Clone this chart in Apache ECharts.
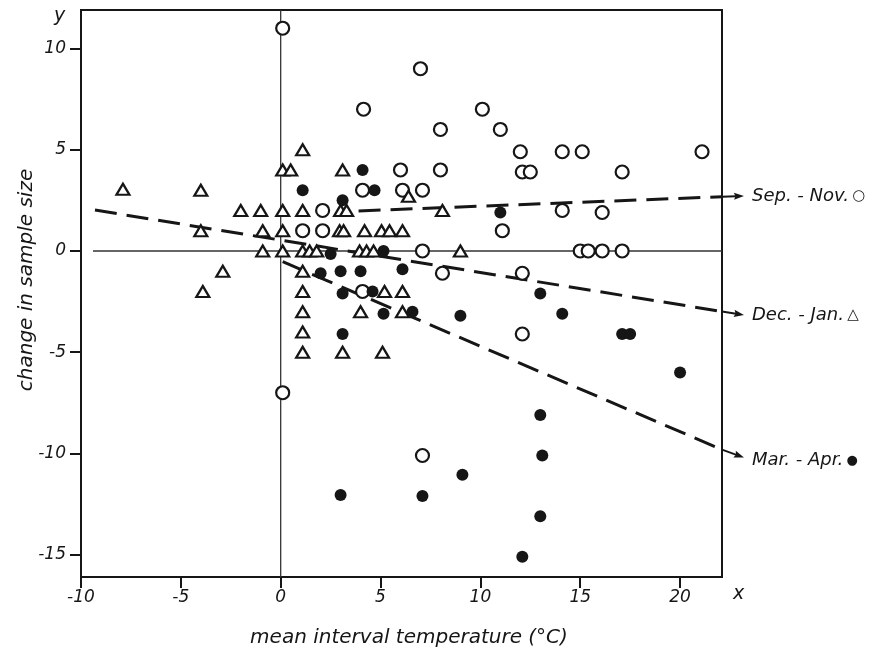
<!DOCTYPE html>
<html><head><meta charset="utf-8">
<script src="https://cdn.jsdelivr.net/npm/echarts@6/dist/echarts.min.js"></script>
<style>html,body{margin:0;padding:0;background:#fff}#c{width:889px;height:653px}</style>
</head><body><div id="c"></div>
<script>
// ---- data ----
const xTicks = [-10, -5, 0, 5, 10, 15, 20];
const yTicks = [-15, -10, -5, 0, 5, 10];
const xRange = [-10, 22.1];
const yRange = [-16.1, 11.9];

// Sep.-Nov. (open circles)
const sepNov = [
  [0.1, 11], [7, 9], [4.15, 7], [10.1, 7], [8, 6], [11, 6],
  [12, 4.9], [14.1, 4.9], [15.1, 4.9], [21.1, 4.9],
  [6, 4], [8, 4], [12.1, 3.9], [12.5, 3.9], [17.1, 3.9],
  [4.1, 3], [6.1, 3], [7.1, 3], [2.1, 2], [14.1, 2], [16.1, 1.9],
  [1.1, 1], [2.1, 1], [11.1, 1],
  [7.1, 0], [15, 0], [15.4, 0], [16.1, 0], [17.1, 0],
  [8.1, -1.1], [12.1, -1.1], [4.1, -2], [12.1, -4.1], [0.1, -7], [7.1, -10.1]
];
// Dec.-Jan. (open triangles)
const decJan = [
  [-7.9, 3.05], [-4, 3], [0.1, 4], [0.5, 4], [1.1, 5], [3.1, 4],
  [-2, 2], [-1, 2], [0.1, 2], [1.1, 2], [3.0, 2], [3.3, 2], [8.1, 2], [6.4, 2.7],
  [-4, 1], [-0.9, 1], [0.1, 1], [2.95, 1], [3.15, 1], [4.2, 1], [5.05, 1], [5.45, 1], [6.1, 1],
  [-0.9, 0], [0.1, 0], [1.1, 0], [1.45, 0], [1.8, 0], [3.95, 0], [4.3, 0], [4.65, 0], [9, 0],
  [-2.9, -1], [-3.9, -2], [1.1, -1], [1.1, -2], [5.2, -2], [6.1, -2],
  [1.1, -3], [4, -3], [6.1, -3], [1.1, -4], [1.1, -5], [3.1, -5], [5.1, -5]
];
// Mar.-Apr. (filled dots)
const marApr = [
  [1.1, 3], [4.1, 4], [4.7, 3], [3.1, 2.5], [11, 1.9], [2.5, -0.15], [5.15, 0],
  [2, -1.1], [3, -1], [4, -1], [6.1, -0.9], [3.1, -2.1], [4.6, -2], [13, -2.1],
  [5.15, -3.1], [6.6, -3], [9, -3.2], [14.1, -3.1], [3.1, -4.1], [17.1, -4.1], [17.5, -4.1],
  [20, -6], [13, -8.1], [13.1, -10.1], [9.1, -11.05], [3, -12.05], [7.1, -12.1],
  [13, -13.1], [12.1, -15.1]
];
// fitted lines (start, frame) and arrow tip beyond the frame
const sepNovFit = [[3.9, 1.98], [22.1, 2.68]];
const decJanFit = [[-9.3, 2.02], [22.1, -2.99]];
const marAprFit = [[0.1, -0.53], [22.1, -9.81]];
const sepNovTip = [23.2, 2.72];
const decJanTip = [23.2, -3.16];
const marAprTip = [23.2, -10.2];
const zeroH = [[-9.4, 0], [22.1, 0]];
const zeroV = [[0, -16.1], [0, 11.9]];
const labels = ['Sep. - Nov.', 'Dec. - Jan.', 'Mar. - Apr.'];
const labelMarks = ['○', '△', '●'];

// ---- chart ----
const FONT = 'DejaVu Sans';
const INK = '#161616';
const chart = echarts.init(document.getElementById('c'), null, {renderer: 'canvas'});

function fitSeries(d) {
  return {type: 'line', data: d, symbol: 'none', silent: true, z: 2,
    lineStyle: {color: INK, width: 3, type: [22, 10]}};
}
function scatter(d, symbol, size, fill) {
  return {type: 'scatter', data: d, symbol: symbol, symbolSize: size, z: 5,
    itemStyle: {color: fill ? INK : '#fff', borderColor: INK, borderWidth: fill ? 0 : 2.2, opacity: 1}};
}
const fits = [sepNovFit, decJanFit, marAprFit];
const tips = [sepNovTip, decJanTip, marAprTip];
const arrowData = fits.map((f, i) => [f[1][0], f[1][1], tips[i][0], tips[i][1], i]);

function renderArrow(params, api) {
  const i = api.value(4);
  const p1 = api.coord([api.value(0), api.value(1)]);
  const p2 = api.coord([api.value(2), api.value(3)]);
  const a = Math.atan2(p2[1] - p1[1], p2[0] - p1[0]);
  const c = Math.cos(a), s = Math.sin(a);
  const L = 10, W = 3.6;
  const b = [p2[0] - L * c, p2[1] - L * s];
  return {type: 'group', children: [
    {type: 'line', shape: {x1: p1[0], y1: p1[1], x2: b[0] + 2 * c, y2: b[1] + 2 * s},
      style: {stroke: INK, lineWidth: 2}},
    {type: 'polygon', shape: {points: [p2, [b[0] - W * s, b[1] + W * c], [b[0] + 1.5 * c, b[1] + 1.5 * s], [b[0] + W * s, b[1] - W * c]]},
      style: {fill: INK}},
    {type: 'text', x: p2[0] + 8, y: p2[1] + (i === 2 ? 3 : 0),
      style: {text: '{t|' + labels[i] + '} {s' + i + '|' + labelMarks[i] + '}', verticalAlign: 'middle', align: 'left',
        rich: {t: {fontFamily: FONT, fontStyle: 'italic', fontSize: 18, fill: INK, color: INK},
               s0: {fontFamily: FONT, fontSize: 15, fill: INK, color: INK},
               s1: {fontFamily: FONT, fontSize: 15, fill: INK, color: INK},
               s2: {fontFamily: FONT, fontSize: 13, fill: INK, color: INK}}}}
  ]};
}

const option = {
  animation: false,
  backgroundColor: '#fff',
  grid: {left: 81, right: 167, top: 10, bottom: 76, show: true, borderColor: INK, borderWidth: 2, containLabel: false},
  xAxis: {type: 'value', min: xRange[0], max: xRange[1], interval: 5,
    axisLine: {show: true, onZero: false, lineStyle: {color: INK, width: 2}},
    axisTick: {show: true, inside: false, length: 11, customValues: xTicks, lineStyle: {color: INK, width: 2}},
    axisLabel: {show: true, customValues: xTicks, margin: 12, color: INK, fontFamily: FONT, fontStyle: 'italic', fontSize: 17},
    splitLine: {show: false}},
  yAxis: {type: 'value', min: yRange[0], max: yRange[1], interval: 5,
    axisLine: {show: true, onZero: false, lineStyle: {color: INK, width: 2}},
    axisTick: {show: true, inside: false, length: 11, customValues: yTicks, lineStyle: {color: INK, width: 2}},
    axisLabel: {show: true, customValues: yTicks, margin: 15, color: INK, fontFamily: FONT, fontStyle: 'italic', fontSize: 17},
    splitLine: {show: false}},
  graphic: [
    {type: 'text', left: 54, top: 7, style: {text: 'y', font: 'italic 19px "DejaVu Sans"', fill: INK}},
    {type: 'text', left: 733, top: 585, style: {text: 'x', font: 'italic 19px "DejaVu Sans"', fill: INK}},
    {type: 'text', x: 27, y: 280, rotation: Math.PI / 2,
      style: {text: 'change in sample size', font: 'italic 20px "DejaVu Sans"', fill: INK, align: 'center', verticalAlign: 'middle'}},
    {type: 'text', x: 409, y: 638,
      style: {text: 'mean interval temperature (°C)', font: 'italic 20px "DejaVu Sans"', fill: INK, align: 'center', verticalAlign: 'middle'}}
  ],
  series: [
    {type: 'line', data: zeroH, symbol: 'none', silent: true, z: 1, lineStyle: {color: '#333', width: 1.3}},
    {type: 'line', data: zeroV, symbol: 'none', silent: true, z: 1, lineStyle: {color: '#333', width: 1.3}},
    fitSeries(sepNovFit), fitSeries(decJanFit), fitSeries(marAprFit),
    {type: 'custom', data: arrowData, renderItem: renderArrow, clip: false, silent: true, z: 3},
    scatter(sepNov, 'circle', 13, false),
    scatter(decJan, 'triangle', [13, 11], false),
    scatter(marApr, 'circle', 12, true)
  ]
};
chart.setOption(option);
</script>
</body></html>
